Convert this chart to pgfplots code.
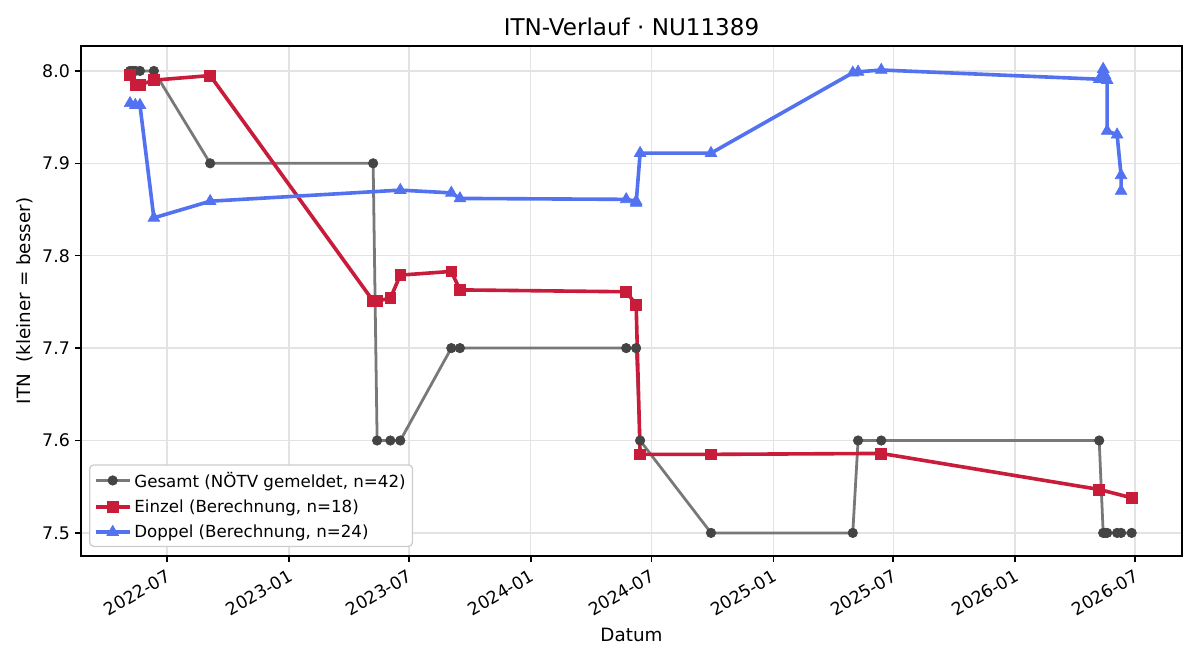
\documentclass[border=0pt]{standalone}
\usepackage{fontspec}
\setmainfont{DejaVu Sans}
\usepackage{pgfplots}
\pgfplotsset{compat=1.18}
\definecolor{gline}{RGB}{120,120,120}
\definecolor{gmark}{RGB}{68,68,68}
\definecolor{rline}{RGB}{200,28,58}
\definecolor{bline}{RGB}{82,114,240}
\begin{document}
\begin{tikzpicture}
\begin{axis}[
  name=ax,
  at={(0,0)}, anchor=south west,
  scale only axis,
  width=792.72pt, height=367.2pt,
  xmin=51, xmax=1713,
  ymin=7.475, ymax=8.027,
  xtick={181,365,546,730,912,1096,1277,1461,1642},
  xticklabels={2022-07,2023-01,2023-07,2024-01,2024-07,2025-01,2025-07,2026-01,2026-07},
  xticklabel style={rotate=30, anchor=north east, font=\fontsize{12.5}{14}\selectfont},
  ytick={7.5,7.6,7.7,7.8,7.9,8.0},
  /pgf/number format/assume math mode=true,
  yticklabel style={font=\fontsize{12.5}{14}\selectfont, /pgf/number format/fixed, /pgf/number format/fixed zerofill, /pgf/number format/precision=1},
  xtick pos=bottom, ytick pos=left,
  tick align=outside, major tick length=4.5pt,
  tick style={black, line width=1pt},
  axis line style={line width=1pt},
  grid=major, grid style={black!11, line width=0.9pt},
  title={ITN-Verlauf · NU11389},
  title style={font=\fontsize{16.6}{19}\selectfont, yshift=-2pt},
  xlabel={Datum}, ylabel={ITN\ \ (kleiner = besser)},
  label style={font=\fontsize{13.2}{15}\selectfont},
  legend style={at={(0.0073,0.0176)}, anchor=south west, draw=black!20, rounded corners=3pt,
    font=\fontsize{12}{14}\selectfont, row sep=3.5pt, inner sep=3pt, line width=0.9pt},
  legend cell align=left,
  legend image code/.code={\draw[mark repeat=2,mark phase=2] plot coordinates {(0pt,0pt) (12.3pt,0pt) (24.6pt,0pt)};},
]
\addplot[gline, line width=2pt, mark=*, mark size=3.4pt, mark options={fill=gmark, draw=gmark, line width=0.5pt}] coordinates {
(125,8.0)(129,8.0)(133,8.0)(140,8.0)(161,8.0)(246,7.9)(492,7.9)(498,7.6)(518,7.6)(533,7.6)
(610,7.7)(623,7.7)(874,7.7)(889,7.7)(895,7.6)(1002,7.5)(1216,7.5)(1224,7.6)(1259,7.6)
(1588,7.6)(1594,7.5)(1597,7.5)(1600,7.5)(1615,7.5)(1621,7.5)(1637,7.5)};
\addlegendentry{Gesamt (NÖTV gemeldet, n=42)}
\addplot[rline, line width=2.6pt, mark=square*, mark size=3.9pt, mark options={fill=rline, draw=rline, line width=0.5pt}] coordinates {
(125,7.996)(133,7.985)(140,7.985)(161,7.990)(246,7.995)(492,7.751)(498,7.751)(518,7.754)
(533,7.779)(610,7.783)(623,7.763)(874,7.761)(889,7.747)(895,7.585)(1002,7.585)(1259,7.586)
(1588,7.547)(1637,7.538)};
\addlegendentry{Einzel (Berechnung, n=18)}
\addplot[bline, line width=2.6pt, mark=triangle*, mark size=4.8pt, mark options={fill=bline, draw=bline, line width=0.5pt}] coordinates {
(125,7.965)(133,7.963)(140,7.963)(161,7.841)(246,7.859)(533,7.871)(610,7.868)(623,7.862)
(874,7.861)(889,7.859)(889,7.857)(895,7.911)(1002,7.911)(1216,7.998)(1224,7.999)(1259,8.001)
(1588,7.991)(1594,8.002)(1597,7.995)(1600,7.990)(1600,7.935)(1615,7.931)(1621,7.887)(1621,7.870)};
\addlegendentry{Doppel (Berechnung, n=24)}
\end{axis}
\pgfresetboundingbox
\path (-58.32pt,-74.88pt) rectangle (805.68pt,400.32pt);
\end{tikzpicture}
\end{document}
